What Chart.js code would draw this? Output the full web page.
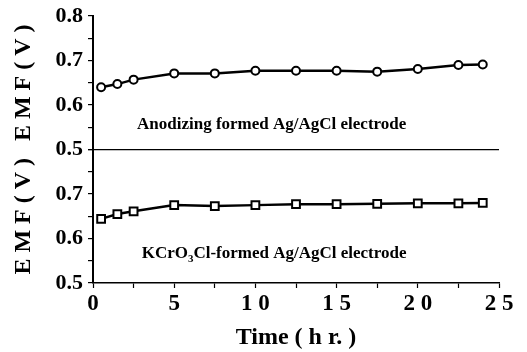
<!DOCTYPE html>
<html>
<head>
<meta charset="utf-8">
<script src="https://cdn.jsdelivr.net/npm/chart.js@4.4.0/dist/chart.umd.min.js"></script>
<style>
  html, body { margin: 0; padding: 0; background: #fff; }
  #wrap { width: 527px; height: 352px; }
</style>
</head>
<body>
<div id="wrap"><canvas id="myChart" width="527" height="352"></canvas></div>
<script>
// Datos
const horas = [0.5, 1.5, 2.5, 5, 7.5, 10, 12.5, 15, 17.5, 20, 22.5, 24];
const emfAnodizado = [0.640, 0.647, 0.657, 0.671, 0.671, 0.677, 0.677, 0.677, 0.675, 0.681, 0.690, 0.691];
const emfKCrO3Cl = [0.644, 0.655, 0.661, 0.675, 0.673, 0.675, 0.677, 0.677, 0.678, 0.679, 0.679, 0.680];
const ticksX = [0, 5, 10, 15, 20, 25];
const ticksY = [0.5, 0.6, 0.7, 0.8];

const FUENTE = 'Liberation Serif, Times New Roman, serif';

const puntos = (ys) => horas.map((h, i) => ({ x: h, y: ys[i] }));

// Textos dentro de los paneles
const rotulos = {
    id: 'rotulos',
    afterDatasetsDraw(chart) {
        const ctx = chart.ctx;
        const sx = chart.scales.x;
        ctx.save();
        ctx.fillStyle = '#000';
        ctx.textBaseline = 'middle';
        const fNormal = 'bold 17px ' + FUENTE;
        const fSub = 'bold 11px ' + FUENTE;
        // panel superior
        ctx.font = fNormal;
        ctx.textAlign = 'center';
        ctx.fillText('Anodizing formed Ag/AgCl electrode', sx.getPixelForValue(11.0), chart.scales.yTop.getPixelForValue(0.555));
        // panel inferior, con subíndice
        const partes = ['KCrO', '3', 'Cl-formed Ag/AgCl electrode'];
        ctx.textAlign = 'left';
        ctx.font = fNormal;
        const w1 = ctx.measureText(partes[0]).width;
        const w3 = ctx.measureText(partes[2]).width;
        ctx.font = fSub;
        const w2 = ctx.measureText(partes[1]).width;
        const total = w1 + w2 + w3;
        let x = sx.getPixelForValue(11.15) - total / 2;
        const y = chart.scales.yBot.getPixelForValue(0.565);
        ctx.font = fNormal;
        ctx.fillText(partes[0], x, y);
        x += w1;
        ctx.font = fSub;
        ctx.fillText(partes[1], x, y + 5);
        x += w2;
        ctx.font = fNormal;
        ctx.fillText(partes[2], x, y);
        ctx.restore();
    }
};

const ejeY = (esSuperior) => ({
    type: 'linear',
    position: 'left',
    stack: 'emf',
    stackWeight: 1,
    min: 0.5,
    max: 0.8,
    afterFit: (s) => { s.width = 93; },
    border: { display: true, color: '#000', width: 2 },
    grid: {
        drawOnChartArea: esSuperior,
        color: (c) => (esSuperior && c.tick && Math.abs(c.tick.value - 0.5) < 1e-6) ? '#000' : 'rgba(0,0,0,0)',
        lineWidth: 1.2,
        tickColor: '#000',
        tickLength: 5,
        tickWidth: 1.2
    },
    ticks: {
        stepSize: 0.05,
        autoSkip: false,
        padding: 5,
        color: '#000',
        font: { family: FUENTE, size: 22, weight: 'bold', lineHeight: 1 },
        callback: (v) => {
            const t = ticksY.find(k => Math.abs(k - v) < 1e-6);
            if (t === undefined) return '';
            if (!esSuperior && t === 0.8) return '';
            return t.toFixed(1);
        }
    },
    title: {
        display: true,
        text: 'E M F ( V )',
        color: '#000',
        font: { family: FUENTE, size: 24, weight: 'bold', lineHeight: 1 },
        padding: { top: 12, bottom: 0 }
    }
});

const ctx = document.getElementById('myChart').getContext('2d');

const myChart = new Chart(ctx, {
    type: 'scatter',
    data: {
        datasets: [
            {
                label: 'Anodizing formed Ag/AgCl electrode',
                data: puntos(emfAnodizado),
                yAxisID: 'yTop',
                showLine: true,
                borderColor: '#000',
                borderWidth: 2.5,
                pointStyle: 'circle',
                pointRadius: 4,
                pointBorderWidth: 2,
                pointBackgroundColor: '#fff',
                pointBorderColor: '#000'
            },
            {
                label: 'KCrO3Cl-formed Ag/AgCl electrode',
                data: puntos(emfKCrO3Cl),
                yAxisID: 'yBot',
                showLine: true,
                borderColor: '#000',
                borderWidth: 2.5,
                pointStyle: 'rect',
                pointRadius: 5.5,
                pointBorderWidth: 2,
                pointBackgroundColor: '#fff',
                pointBorderColor: '#000'
            }
        ]
    },
    options: {
        responsive: false,
        animation: false,
        layout: { padding: { top: 13, right: 28, bottom: 0, left: 0 } },
        plugins: {
            legend: { display: false },
            tooltip: { enabled: false }
        },
        scales: {
            yBot: ejeY(false),
            yTop: ejeY(true),
            x: {
                type: 'linear',
                min: 0,
                max: 25,
                afterFit: (s) => { s.height = 69; },
                border: { display: true, color: '#000', width: 1.5 },
                grid: {
                    drawOnChartArea: false,
                    tickColor: '#000',
                    tickLength: 5,
                    tickWidth: 1.2
                },
                ticks: {
                    stepSize: 2.5,
                    padding: 2,
                    maxRotation: 0,
                    autoSkip: false,
                    color: '#000',
                    font: { family: FUENTE, size: 23, weight: 'bold' },
                    callback: (v) => {
                        const t = ticksX.find(k => Math.abs(k - v) < 1e-6);
                        return t === undefined ? '' : String(t).split('').join(' ');
                    }
                },
                title: {
                    display: true,
                    text: 'Time ( h r. )',
                    color: '#000',
                    font: { family: FUENTE, size: 24, weight: 'bold' },
                    padding: { top: 4, bottom: 0 }
                }
            }
        }
    },
    plugins: [rotulos]
});
</script>
</body>
</html>
